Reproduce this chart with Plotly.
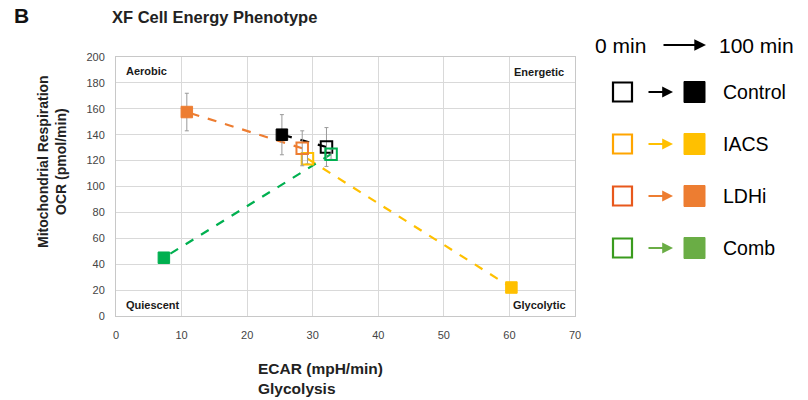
import plotly.graph_objects as go

# ---- data ----
groups = ["Control", "IACS", "LDHi", "Comb"]
ecar_0min = [32.1, 29.2, 28.4, 32.8]
ocr_0min = [130.5, 121.5, 129.5, 125.0]
ecar_100min = [25.3, 60.3, 10.8, 7.3]
ocr_100min = [140.0, 22.0, 157.5, 45.0]
err_0min = [15.0, 4.0, 13.5, 4.0]
err_100min = [15.5, 3.0, 14.5, 2.0]
x_ticks = [0, 10, 20, 30, 40, 50, 60, 70]
y_ticks = [0, 20, 40, 60, 80, 100, 120, 140, 160, 180, 200]
quadrants = ["Aerobic", "Energetic", "Quiescent", "Glycolytic"]

plot_colors = ["#000000", "#FFC000", "#ED7D31", "#00B050"]
legend_open = ["#000000", "#FFA500", "#E8581C", "#3A9B1E"]
legend_fill = ["#000000", "#FFC000", "#ED7D31", "#6AAD45"]

FONT = "Liberation Sans, Arial, sans-serif"

fig = go.Figure()

for i, g in enumerate(groups):
    fig.add_trace(go.Scatter(
        x=[ecar_0min[i], ecar_100min[i]], y=[ocr_0min[i], ocr_100min[i]],
        mode="lines", line=dict(color=plot_colors[i], width=2.2, dash="dash"),
        showlegend=False, hoverinfo="skip"))

for i, g in enumerate(groups):
    fig.add_trace(go.Scatter(
        x=[ecar_100min[i]], y=[ocr_100min[i]], mode="markers",
        marker=dict(symbol="square", size=11.5, color=plot_colors[i],
                    line=dict(color=plot_colors[i], width=1)),
        error_y=dict(type="data", array=[err_100min[i]], color="#9a9a9a",
                     thickness=1, width=2),
        showlegend=False, name=g + " 100 min"))
    fig.add_trace(go.Scatter(
        x=[ecar_0min[i]], y=[ocr_0min[i]], mode="markers",
        marker=dict(symbol="square-open", size=11.5, color=plot_colors[i],
                    line=dict(color=plot_colors[i], width=2)),
        error_y=dict(type="data", array=[err_0min[i]], color="#9a9a9a",
                     thickness=1, width=2),
        showlegend=False, name=g + " 0 min"))

L, R, T, B = 116, 575, 57, 316
W, H = 808, 400


def pxx(x):
    return (x - L) / (R - L)


def pxy(y):
    return (B - y) / (B - T)


ann = []
# quadrant labels
qpos = [(124, 71, "left"), (566, 72, "right"), (124, 305, "left"), (568, 305, "right")]
for q, (x, y, a) in zip(quadrants, qpos):
    ann.append(dict(text="<b>" + q + "</b>", x=pxx(x), y=pxy(y), xref="paper", yref="paper",
                    xanchor=a, yanchor="middle", showarrow=False,
                    font=dict(size=11, color="#1a1a1a", family=FONT)))

# titles
ann.append(dict(text="<b>B</b>", x=pxx(12), y=pxy(15), xref="paper", yref="paper",
                xanchor="left", yanchor="middle", showarrow=False,
                font=dict(size=21, color="#111", family=FONT)))
ann.append(dict(text="<b>XF Cell Energy Phenotype</b>", x=pxx(110), y=pxy(17), xref="paper",
                yref="paper", xanchor="left", yanchor="middle", showarrow=False,
                font=dict(size=16.5, color="#222", family=FONT)))
ann.append(dict(text="<b>ECAR (mpH/min)<br>Glycolysis</b>", x=pxx(256), y=pxy(378), xref="paper",
                yref="paper", xanchor="left", yanchor="middle", align="left", showarrow=False,
                font=dict(size=15.5, color="#222", family=FONT)))
ann.append(dict(text="<b>Mitochondrial Respiration<br>OCR (pmol/min)</b>", x=pxx(52), y=pxy(162),
                xref="paper", yref="paper", xanchor="center", yanchor="middle", align="center",
                textangle=-90, showarrow=False,
                font=dict(size=14, color="#222", family=FONT)))

# legend header
ann.append(dict(text="0 min", x=pxx(593), y=pxy(45), xref="paper", yref="paper",
                xanchor="left", yanchor="middle", showarrow=False,
                font=dict(size=21, color="#000", family=FONT)))
ann.append(dict(text="100 min", x=pxx(717), y=pxy(45), xref="paper", yref="paper",
                xanchor="left", yanchor="middle", showarrow=False,
                font=dict(size=21, color="#000", family=FONT)))
ann.append(dict(text="", x=pxx(706), y=pxy(45), xref="paper", yref="paper",
                ax=-44, ay=0, showarrow=True, arrowhead=2, arrowsize=1.3, arrowwidth=1.8,
                arrowcolor="#000"))

shapes = []
row_y = [92, 144, 196, 248]
for i, g in enumerate(groups):
    y = row_y[i]
    shapes.append(dict(type="rect", xref="paper", yref="paper",
                       x0=pxx(613), x1=pxx(632), y0=pxy(y + 9.5), y1=pxy(y - 9.5),
                       line=dict(color=legend_open[i], width=2.2), fillcolor="white"))
    shapes.append(dict(type="rect", xref="paper", yref="paper",
                       x0=pxx(684), x1=pxx(705), y0=pxy(y + 10.5), y1=pxy(y - 10.5),
                       line=dict(color=legend_fill[i], width=1), fillcolor=legend_fill[i]))
    ann.append(dict(text="", x=pxx(673), y=pxy(y), xref="paper", yref="paper",
                    ax=-26, ay=0, showarrow=True, arrowhead=2, arrowsize=1.2, arrowwidth=1.8,
                    arrowcolor=legend_fill[i]))
    ann.append(dict(text=g, x=pxx(721), y=pxy(y), xref="paper", yref="paper",
                    xanchor="left", yanchor="middle", showarrow=False,
                    font=dict(size=19.5, color="#000", family=FONT)))

fig.update_layout(
    width=W, height=H, margin=dict(l=L, r=W - R, t=T, b=H - B),
    paper_bgcolor="white", plot_bgcolor="white",
    annotations=ann, shapes=shapes, showlegend=False,
    font=dict(family=FONT),
    xaxis=dict(range=[0, 70], tickvals=x_ticks, showgrid=True, gridcolor="#d9d9d9",
               gridwidth=1, zeroline=False, showline=True, linecolor="#c8c8c8", mirror=True,
               ticks="", ticklabelstandoff=9, tickfont=dict(size=11, color="#444"),
               fixedrange=True),
    yaxis=dict(range=[0, 200], tickvals=y_ticks, showgrid=True, gridcolor="#d9d9d9",
               gridwidth=1, zeroline=False, showline=True, linecolor="#c8c8c8", mirror=True,
               ticks="", ticklabelstandoff=8, tickfont=dict(size=11, color="#444"),
               fixedrange=True),
)

fig.write_html("out.html", config={"displayModeBar": False},
               post_script="document.body.style.margin='0px';")
